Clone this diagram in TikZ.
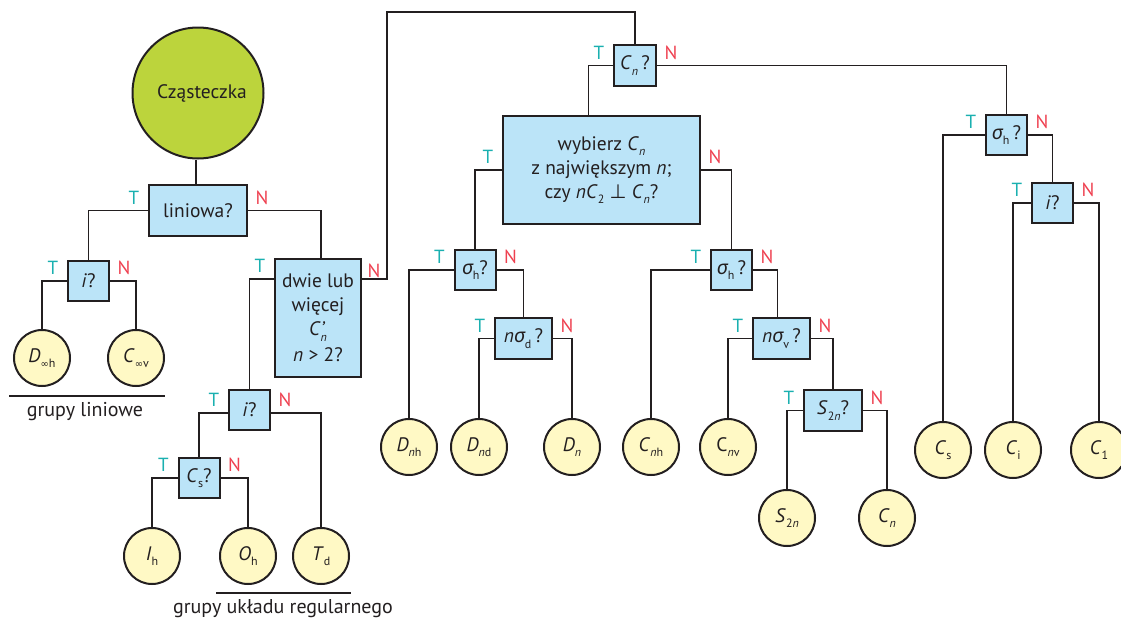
\documentclass[tikz,border=0pt]{standalone}
\usepackage{fontspec}
\setmainfont{PT Sans}
\newfontfamily\grkf{Noto Sans}
\newfontfamily\symf{DejaVu Sans}
\definecolor{boxblue}{RGB}{187,228,248}
\definecolor{leafyel}{RGB}{255,249,197}
\definecolor{molgreen}{RGB}{188,212,60}
\definecolor{tcol}{RGB}{26,176,176}
\definecolor{ncol}{RGB}{239,64,80}
\definecolor{linec}{RGB}{35,31,32}
\newcommand\lo[1]{\raisebox{-0.55ex}{\fontsize{12}{12}\selectfont #1}}
\newcommand\sig{{\grkf\itshape σ}}
\newcommand\inff{{\symf\fontsize{10}{10}\selectfont ∞}}
\tikzset{
  box/.style={draw=linec, line width=2pt, fill=boxblue, inner sep=0pt, align=center,
    font=\fontsize{19.5}{24}\selectfont, text=linec},
  sbox/.style={box, minimum width=41pt, minimum height=40pt},
  leaf/.style={circle, draw=linec, line width=2pt, fill=leafyel, minimum size=56pt, inner sep=0pt,
    font=\fontsize{19.5}{20}\selectfont, text=linec},
  conn/.style={draw=linec, line width=1.8pt},
  tl/.style={text=tcol, xshift=-14pt, yshift=13pt, font=\fontsize{19}{19}\selectfont, inner sep=0pt},
  nl/.style={text=ncol, xshift=14pt, yshift=13pt, font=\fontsize{19}{19}\selectfont, inner sep=0pt},
  capt/.style={font=\fontsize{20}{22}\selectfont, text=linec}
}
\begin{document}
\begin{tikzpicture}[x=1pt,y=-1pt]
\fill[white] (0,0) rectangle (1121,621);
\useasboundingbox (0,0) rectangle (1121,621);
% left part
\node[circle, draw=linec, line width=2pt, fill=molgreen, minimum size=131pt, font=\fontsize{19.5}{20}\selectfont, text=linec] (mol) at (198,93) {\hspace{8pt}Cząsteczka};
\node[box, minimum width=98pt, minimum height=51pt] (lin) at (198,210.5) {liniowa?};
\node[sbox] (i1) at (88.5,281) {\textit{i}?};
\node[leaf] (Dinfh) at (42,358) {\textit{D}\lo{\inff h}};
\node[leaf] (Cinfv) at (136,358) {\textit{C}\lo{\inff v}};
\node[box, minimum width=86pt, minimum height=118pt] (dwie) at (318,318)
  {dwie lub\\więcej\\\textit{C}\makebox[0pt][l]{\textit{'}}\lo{\textit{n}}\\[2pt]\textit{n} > 2?};
\node[sbox] (i2) at (249.5,410) {\textit{i}?};
\node[sbox] (cs) at (199,478) {\textit{C}\lo{s}?};
\node[leaf] (Ih) at (152,556) {\textit{I}\lo{h}};
\node[leaf] (Oh) at (248,556) {\textit{O}\lo{h}};
\node[leaf] (Td) at (321,556) {\textit{T}\lo{d}};
\draw[line width=1.5pt, linec] (9,396) -- (165,396);
\node[capt] (gl) at (85,412) {grupy liniowe};
\draw[line width=1.5pt, linec] (216,593) -- (351,593);
\node[capt] (gr) at (283,609) {grupy układu regularnego};
% right part
\coordinate (topL) at (387,12);
\node[box, minimum width=42pt, minimum height=41pt] (cn) at (635,65.5) {\textit{C}\lo{\textit{n}}\,?};
\node[box, minimum width=197pt, minimum height=108pt] (wyb) at (601.5,170)
  {wybierz \textit{C}\lo{\textit{n}}\\z największym \textit{n};\\czy \textit{nC}\lo{2} {\symf ⊥} \textit{C}\lo{\textit{n}}?};
\node[sbox] (sh1) at (475,270) {\sig\lo{h}?};
\node[sbox] (sh2) at (731.5,270) {\sig\lo{h}\,?};
\node[sbox] (sh3) at (1006.5,135) {\sig\lo{h}\,?};
\node[sbox] (i3) at (1052.5,203) {\textit{i}?};
\node[box, minimum width=57pt, minimum height=41pt] (nsd) at (523.5,338.5) {\textit{n}\sig\lo{d}\,?};
\node[box, minimum width=57pt, minimum height=41pt] (nsv) at (781.5,338.5) {\textit{n}\sig\lo{v}\,?};
\node[box, minimum width=58pt, minimum height=41pt] (s2n) at (833,410.5) {\textit{S}\lo{2\textit{n}}?};
\node[leaf] (Dnh) at (409,447) {\textit{D}\lo{\textit{n}h}};
\node[leaf] (Dnd) at (479,447) {\textit{D}\lo{\textit{n}d}};
\node[leaf] (Dn) at (572,447) {\textit{D}\lo{\textit{n}}};
\node[leaf] (Cnh) at (651,447) {\textit{C}\lo{\textit{n}h}};
\node[leaf] (Cnv) at (728,447) {C\lo{\textit{n}v}};
\node[leaf] (S2nl) at (787,518) {\textit{S}\lo{2\textit{n}}};
\node[leaf] (Cnl) at (887,518) {\textit{C}\lo{\textit{n}}};
\node[leaf] (Cs) at (943,450) {\textit{C}\lo{s}};
\node[leaf] (Ci) at (1013,450) {\textit{C}\lo{i}};
\node[leaf] (C1) at (1099,450) {\textit{C}\lo{1}};
% connectors
\draw[conn] ([xshift=-2pt]mol.south) -- ([xshift=-2pt]lin.north);
\draw[conn] (lin.west) -| (i1.north) node[pos=0, tl] {T};
\draw[conn] (lin.east) -| ([xshift=3pt]dwie.north) node[pos=0, nl] {N};
\draw[conn] (i1.west) -| (Dinfh.north) node[pos=0, tl] {T};
\draw[conn] (i1.east) -| (Cinfv.north) node[pos=0, nl] {N};
\draw[conn] ([yshift=-21pt]dwie.north west) -| (i2.north) node[pos=0, tl] {T};
\draw[conn] ([yshift=-21pt]dwie.north east) -| (topL) -| (cn.north);
\node[text=ncol, font=\fontsize{19}{19}\selectfont, inner sep=0pt] (dwN) at (374,271) {N};
\draw[conn] ([yshift=-3pt]i2.west) -| (cs.north) node[pos=0, tl] {T};
\draw[conn] ([yshift=-3pt]i2.east) -| (Td.north) node[pos=0, nl] {N};
\draw[conn] (cs.west) -| (Ih.north) node[pos=0, tl] {T};
\draw[conn] (cs.east) -| (Oh.north) node[pos=0, nl] {N};
\draw[conn] (cn.west) -| ([xshift=-13pt]wyb.north) node[pos=0, tl] {T};
\draw[conn] (cn.east) -| (sh3.north) node[pos=0, nl] {N};
\draw[conn] (wyb.west) -| (sh1.north) node[pos=0, tl] {T};
\draw[conn] (wyb.east) -| (sh2.north) node[pos=0, nl] {N};
\draw[conn] (sh1.west) -| (Dnh.north) node[pos=0, tl] {T};
\draw[conn] (sh1.east) -| (nsd.north) node[pos=0, nl] {N};
\draw[conn] (nsd.west) -| (Dnd.north) node[pos=0, tl] {T};
\draw[conn] (nsd.east) -| (Dn.north) node[pos=0, nl] {N};
\draw[conn] (sh2.west) -| (Cnh.north) node[pos=0, tl] {T};
\draw[conn] (sh2.east) -| ([xshift=-4pt]nsv.north) node[pos=0, nl] {N};
\draw[conn] (nsv.west) -| (Cnv.north) node[pos=0, tl] {T};
\draw[conn] (nsv.east) -| (s2n.north) node[pos=0, nl] {N};
\draw[conn] (s2n.west) -| (S2nl.north) node[pos=0, tl] {T};
\draw[conn] (s2n.east) -| (Cnl.north) node[pos=0, nl] {N};
\draw[conn] (sh3.west) -| (Cs.north) node[pos=0, tl] {T};
\draw[conn] (sh3.east) -| (i3.north) node[pos=0, nl] {N};
\draw[conn] (i3.west) -| (Ci.north) node[pos=0, tl] {T};
\draw[conn] (i3.east) -| (C1.north) node[pos=0, nl] {N};
\end{tikzpicture}
\end{document}
